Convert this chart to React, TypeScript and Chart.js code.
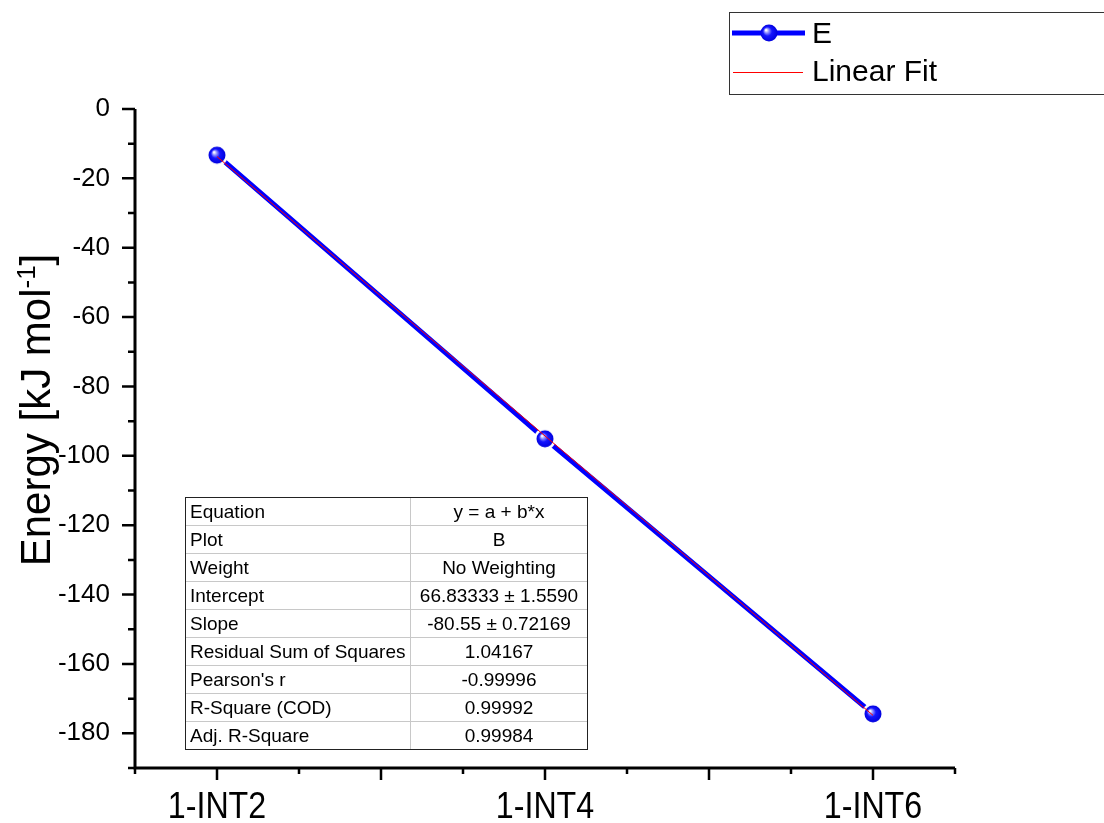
import React, { useEffect, useRef } from "react";
import { Chart, registerables } from "chart.js";

Chart.register(...registerables);

// ---- data ----
const X_LABELS = ["1-INT2", "1-INT4", "1-INT6"];
const X_VALUES = [1, 2, 3];
const E_VALUES = [-13.3, -95.1, -174.4];
const FIT_X = [1, 3];
const FIT_Y = [-13.71667, -174.81667];
const Y_MIN = -190;
const Y_MAX = 0;
const X_MIN = 0.75;
const X_MAX = 3.25;
const LEGEND_LABELS = ["E", "Linear Fit"];
const Y_TITLE_MAIN = "Energy [kJ mol";
const Y_TITLE_SUP = "-1";
const Y_TITLE_END = "]";
const TABLE_KEYS = [
  "Equation",
  "Plot",
  "Weight",
  "Intercept",
  "Slope",
  "Residual Sum of Squares",
  "Pearson's r",
  "R-Square (COD)",
  "Adj. R-Square",
];
const TABLE_VALUES = [
  "y = a + b*x",
  "B",
  "No Weighting",
  "66.83333 ± 1.5590",
  "-80.55 ± 0.72169",
  "1.04167",
  "-0.99996",
  "0.99992",
  "0.99984",
];

const FONT = '"Liberation Sans", Arial, sans-serif';

function makeSphere(ring: boolean): HTMLCanvasElement {
  const size = 26;
  const c = document.createElement("canvas");
  c.width = size;
  c.height = size;
  const g = c.getContext("2d")!;
  const cx = size / 2;
  const cy = size / 2;
  if (ring) {
    g.fillStyle = "#ffffff";
    g.beginPath();
    g.arc(cx, cy, 11, 0, Math.PI * 2);
    g.fill();
  }
  const grad = g.createRadialGradient(cx - 3, cy - 3, 0.5, cx, cy, 8.5);
  grad.addColorStop(0, "#ffffff");
  grad.addColorStop(0.22, "#9090ff");
  grad.addColorStop(0.5, "#1515ff");
  grad.addColorStop(1, "#0000dd");
  g.fillStyle = grad;
  g.beginPath();
  g.arc(cx, cy, 8.5, 0, Math.PI * 2);
  g.fill();
  return c;
}

export default function App() {
  const ref = useRef<HTMLCanvasElement | null>(null);

  useEffect(() => {
    const canvas = ref.current;
    if (!canvas) return;
    const sphereRing = makeSphere(true);
    const spherePlain = makeSphere(false);

    const decor = {
      id: "decor",
      afterDraw(chart: any) {
        const ctx = chart.ctx as CanvasRenderingContext2D;
        const xs = chart.scales.x;
        const ys = chart.scales.y;
        const { left, right, top, bottom } = chart.chartArea;
        ctx.save();

        // axes lines
        ctx.strokeStyle = "#000";
        ctx.lineWidth = 3;
        ctx.beginPath();
        ctx.moveTo(left, top);
        ctx.lineTo(left, bottom + 1.5);
        ctx.moveTo(left - 1.5, bottom);
        ctx.lineTo(right, bottom);
        ctx.stroke();

        // y ticks
        ctx.lineWidth = 2.5;
        ctx.beginPath();
        for (let v = Y_MIN; v <= Y_MAX + 0.001; v += 10) {
          const py = ys.getPixelForValue(v);
          const major = Math.round(v) % 20 === 0;
          ctx.moveTo(left, py);
          ctx.lineTo(left - (major ? 13 : 7), py);
        }
        // x ticks
        for (let v = X_MIN; v <= X_MAX + 0.001; v += 0.25) {
          const px = xs.getPixelForValue(v);
          const major = Math.abs(v * 2 - Math.round(v * 2)) < 1e-6;
          ctx.moveTo(px, bottom);
          ctx.lineTo(px, bottom + (major ? 12 : 6));
        }
        ctx.stroke();

        // x category labels (condensed, placed by the x scale)
        ctx.fillStyle = "#000";
        ctx.font = `37px ${FONT}`;
        ctx.textAlign = "center";
        ctx.textBaseline = "alphabetic";
        for (let i = 0; i < X_LABELS.length; i++) {
          const px = xs.getPixelForValue(X_VALUES[i]);
          ctx.save();
          ctx.translate(px, 818);
          ctx.scale(0.87, 1);
          ctx.fillText(X_LABELS[i], 0, 0);
          ctx.restore();
        }

        // y title
        ctx.save();
        ctx.translate(50, 410);
        ctx.rotate(-Math.PI / 2);
        ctx.fillStyle = "#000";
        ctx.textBaseline = "alphabetic";
        ctx.textAlign = "left";
        ctx.font = `42px ${FONT}`;
        const w1 = ctx.measureText(Y_TITLE_MAIN).width;
        const w3 = ctx.measureText(Y_TITLE_END).width;
        ctx.font = `26px ${FONT}`;
        const w2 = ctx.measureText(Y_TITLE_SUP).width;
        let sx = -(w1 + w2 + w3) / 2;
        ctx.font = `42px ${FONT}`;
        ctx.fillText(Y_TITLE_MAIN, sx, 0);
        sx += w1;
        ctx.font = `26px ${FONT}`;
        ctx.fillText(Y_TITLE_SUP, sx, -15);
        sx += w2;
        ctx.font = `42px ${FONT}`;
        ctx.fillText(Y_TITLE_END, sx, 0);
        ctx.restore();

        // legend
        ctx.fillStyle = "#fff";
        ctx.fillRect(729.5, 12.5, 400, 82);
        ctx.strokeStyle = "#333";
        ctx.lineWidth = 1;
        ctx.strokeRect(729.5, 12.5, 400, 82);
        ctx.strokeStyle = "#0000ff";
        ctx.lineWidth = 5;
        ctx.beginPath();
        ctx.moveTo(732, 33);
        ctx.lineTo(805, 33);
        ctx.stroke();
        ctx.drawImage(spherePlain, 769 - 13, 33 - 13);
        ctx.strokeStyle = "#ff0000";
        ctx.lineWidth = 1;
        ctx.beginPath();
        ctx.moveTo(733, 72.5);
        ctx.lineTo(803, 72.5);
        ctx.stroke();
        ctx.fillStyle = "#000";
        ctx.font = `30px ${FONT}`;
        ctx.textBaseline = "middle";
        ctx.textAlign = "left";
        ctx.fillText(LEGEND_LABELS[0], 812, 35);
        ctx.fillText(LEGEND_LABELS[1], 812, 73);

        // table
        const tl = 185.5, tt = 497.5, tr = 587.5, rh = 28;
        const tb = tt + rh * TABLE_KEYS.length;
        const colX = 410.5;
        ctx.fillStyle = "#fff";
        ctx.fillRect(tl, tt, tr - tl, tb - tt);
        ctx.strokeStyle = "#c8c8c8";
        ctx.lineWidth = 1;
        ctx.beginPath();
        for (let i = 1; i < TABLE_KEYS.length; i++) {
          ctx.moveTo(tl, tt + rh * i);
          ctx.lineTo(tr, tt + rh * i);
        }
        ctx.moveTo(colX, tt);
        ctx.lineTo(colX, tb);
        ctx.stroke();
        ctx.strokeStyle = "#222";
        ctx.strokeRect(tl, tt, tr - tl, tb - tt);
        ctx.fillStyle = "#000";
        ctx.font = `19px ${FONT}`;
        ctx.textBaseline = "middle";
        for (let i = 0; i < TABLE_KEYS.length; i++) {
          const cy = tt + rh * i + rh / 2 + 1;
          ctx.textAlign = "left";
          ctx.fillText(TABLE_KEYS[i], 190, cy);
          ctx.textAlign = "center";
          ctx.fillText(TABLE_VALUES[i], (colX + tr) / 2, cy);
        }

        ctx.restore();
      },
    };

    const chart = new Chart(canvas, {
      type: "line",
      data: {
        datasets: [
          {
            label: LEGEND_LABELS[1],
            data: FIT_X.map((x, i) => ({ x, y: FIT_Y[i] })),
            borderColor: "#ff0000",
            borderWidth: 1,
            pointRadius: 0,
            fill: false,
            order: 0,
          },
          {
            label: LEGEND_LABELS[0],
            data: X_VALUES.map((x, i) => ({ x, y: E_VALUES[i] })),
            borderColor: "#0000ff",
            borderWidth: 5,
            pointStyle: sphereRing as any,
            pointRadius: 9,
            fill: false,
            order: 1,
          },
        ],
      },
      options: {
        animation: false,
        responsive: false,
        maintainAspectRatio: false,
        devicePixelRatio: 1,
        layout: { padding: { top: 109, right: 149, left: 0, bottom: 0 } },
        plugins: { legend: { display: false }, tooltip: { enabled: false } },
        scales: {
          x: {
            type: "linear",
            min: X_MIN,
            max: X_MAX,
            grid: { display: false },
            border: { display: false },
            afterFit: (s: any) => {
              s.height = 55;
            },
            ticks: {
              stepSize: 0.25,
              autoSkip: false,
              maxRotation: 0,
              minRotation: 0,
              callback: () => "",
            },
          },
          y: {
            type: "linear",
            min: Y_MIN,
            max: Y_MAX,
            grid: { display: false },
            border: { display: false },
            afterFit: (s: any) => {
              s.width = 135;
            },
            ticks: {
              stepSize: 10,
              autoSkip: false,
              padding: 17,
              color: "#000",
              font: { family: FONT, size: 26 },
              callback: (v: any) => (Math.round(Number(v)) % 20 === 0 ? String(v) : ""),
            },
          },
        },
      },
      plugins: [decor],
    });

    return () => chart.destroy();
  }, []);

  return (
    <div style={{ position: "absolute", left: 0, top: 0, width: 1104, height: 823, background: "#fff" }}>
      <canvas ref={ref} width={1104} height={823} style={{ width: 1104, height: 823, display: "block" }} />
    </div>
  );
}
